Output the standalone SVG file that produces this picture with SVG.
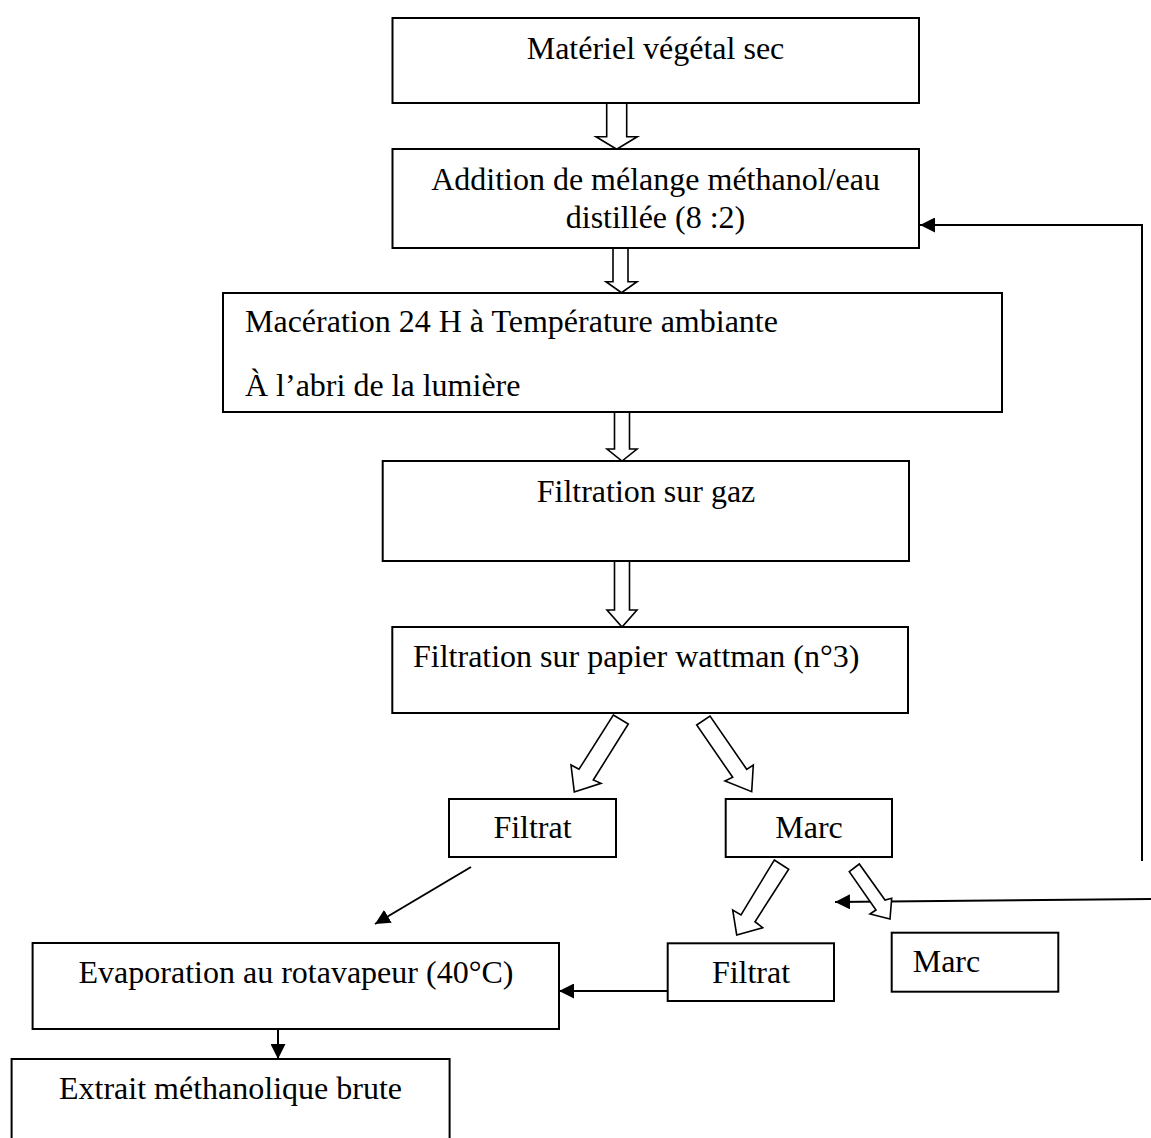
<svg xmlns="http://www.w3.org/2000/svg" width="1151" height="1138" viewBox="0 0 1151 1138">
<style>
.box{fill:#fff;stroke:#000;stroke-width:2}
.t{font-family:"Liberation Serif","Times New Roman",serif;font-size:32px;fill:#000}
.c{text-anchor:middle}
.ln{fill:none;stroke:#000;stroke-width:2}
.ha{fill:#fff;stroke:#000;stroke-width:1.6;stroke-linejoin:miter}
</style>
<defs>
<marker id="ah" viewBox="0 0 15 15" markerWidth="15" markerHeight="15" refX="15" refY="7.5" orient="auto" markerUnits="userSpaceOnUse">
<path d="M0,0 L15,7.5 L0,15 z" fill="#000"/>
</marker>
</defs>
<rect width="1151" height="1138" fill="#fff"/>

<g id="connectors">
<polyline class="ln" points="1142,861 1142,225 920,225" marker-end="url(#ah)"/>
<line class="ln" x1="1151" y1="899" x2="835" y2="902" marker-end="url(#ah)"/>
<line class="ln" x1="471" y1="867" x2="375" y2="924" marker-end="url(#ah)"/>
<line class="ln" x1="667.7" y1="991" x2="559" y2="991" marker-end="url(#ah)"/>
<line class="ln" x1="278" y1="1029" x2="278" y2="1059" marker-end="url(#ah)"/>
<polygon class="ha" points="606.7,103 626.7,103 626.7,136.7 637.3,136.7 616.7,149.3 596,136.7 606.7,136.7"/>
<polygon class="ha" points="613,248 628,248 628,281.7 637,281.7 621.5,292.7 606,281.7 613,281.7"/>
<polygon class="ha" points="614.5,412 629.5,412 629.5,449 637,449 622,461 607,449 614.5,449"/>
<polygon class="ha" points="614.5,561 629.5,561 629.5,610 637,610 622,627 607,610 614.5,610"/>
<polygon class="ha" points="613.3,715 628.3,724 593.3,780 601,783.3 574.3,792 571,765 579,769.3"/>
<polygon class="ha" points="696.7,725 710,716 746.7,769.3 753.3,765 751.7,791.7 725,781 732.7,777.3"/>
<polygon class="ha" points="774.3,860 788.7,869.3 755,921.7 762.7,927.7 736.7,935 732.7,910 741,915"/>
<polygon class="ha" points="849.3,871.7 859.3,864 885,900 891.7,898.3 890,919 870,914 876,910"/>
</g>

<g id="n1">
<rect class="box" x="392.5" y="18" width="526.5" height="85"/>
<text class="t c" x="655.5" y="59">Matériel végétal sec</text>
</g>
<g id="n2">
<rect class="box" x="392.5" y="149" width="526.5" height="99"/>
<text class="t c" x="655.5" y="190">Addition de mélange méthanol/eau</text>
<text class="t c" x="655.5" y="228">distillée (8 :2)</text>
</g>
<g id="n3">
<rect class="box" x="223" y="293" width="779" height="119"/>
<text class="t" x="245" y="332">Macération 24 H à Température ambiante</text>
<text class="t" x="245" y="396">À l’abri de la lumière</text>
</g>
<g id="n4">
<rect class="box" x="382.7" y="461" width="526.3" height="100"/>
<text class="t c" x="646" y="502">Filtration sur gaz</text>
</g>
<g id="n5">
<rect class="box" x="392.3" y="627" width="515.7" height="86"/>
<text class="t" x="413" y="667">Filtration sur papier wattman (n°3)</text>
</g>
<g id="n6">
<rect class="box" x="449" y="799" width="167" height="58"/>
<text class="t c" x="532.5" y="838">Filtrat</text>
</g>
<g id="n7">
<rect class="box" x="725.7" y="799" width="166.3" height="58"/>
<text class="t c" x="809" y="838">Marc</text>
</g>
<g id="n8">
<rect class="box" x="667.7" y="943.3" width="166.3" height="57.7"/>
<text class="t c" x="751" y="983">Filtrat</text>
</g>
<g id="n9">
<rect class="box" x="891.7" y="932.7" width="166.6" height="59"/>
<text class="t" x="912.7" y="972">Marc</text>
</g>
<g id="n10">
<rect class="box" x="32.6" y="943" width="526.4" height="86"/>
<text class="t c" x="296" y="983">Evaporation au rotavapeur (40°C)</text>
</g>
<g id="n11">
<rect class="box" x="11.6" y="1059" width="438" height="100"/>
<text class="t" x="59" y="1099">Extrait méthanolique brute</text>
</g>
</svg>
